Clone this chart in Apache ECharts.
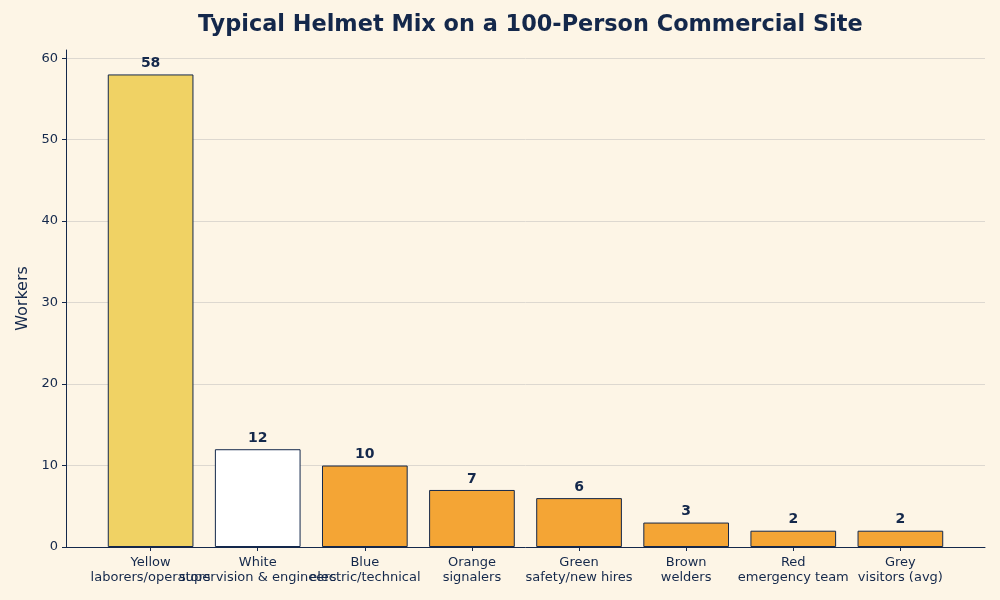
<!DOCTYPE html>
<html>
<head>
  <meta charset="UTF-8">
  <title>Typical Helmet Mix</title>
  <script src="https://cdn.jsdelivr.net/npm/echarts@6/dist/echarts.min.js"></script>
  <style>
    html, body { margin: 0; padding: 0; background: #fdf5e6; }
  </style>
</head>
<body>
  <div id="chart" style="width: 1000px; height: 600px;"></div>
  <script>
    // helmet colours and their roles
    const helmets = ['Yellow', 'White', 'Blue', 'Orange', 'Green', 'Brown', 'Red', 'Grey'];
    const roles = ['laborers/operators', 'supervision & engineers', 'electric/technical', 'signalers',
      'safety/new hires', 'welders', 'emergency team', 'visitors (avg)'];
    const workers = [58, 12, 10, 7, 6, 3, 2, 2];
    const barColors = ['#f0d264', '#ffffff', '#f4a535', '#f4a535', '#f4a535', '#f4a535', '#f4a535', '#f4a535'];
    const yTicks = [0, 10, 20, 30, 40, 50, 60];
    // labels are split over two axes so the overlapping ones are not hidden
    const xTicksEven = [0, 2, 4, 6];
    const xTicksOdd = [1, 3, 5, 7];

    const navy = '#14284b';
    const chart = echarts.init(document.getElementById('chart'));

    function xAxisFor(ticks, showLine) {
      return {
        type: 'value',
        position: 'bottom',
        min: -0.79,
        max: 7.79,
        axisLine: { show: showLine, onZero: false, lineStyle: { color: navy, width: 1 } },
        axisTick: { show: true, customValues: ticks, length: 4, lineStyle: { color: navy } },
        splitLine: { show: false },
        axisLabel: {
          customValues: ticks,
          showMinLabel: true,
          showMaxLabel: true,
          hideOverlap: false,
          color: navy,
          fontSize: 13,
          lineHeight: 15,
          margin: 8,
          formatter: v => helmets[Math.round(v)] + '\n' + roles[Math.round(v)]
        }
      };
    }

    chart.setOption({
      backgroundColor: '#fdf5e6',
      textStyle: { fontFamily: 'DejaVu Sans' },
      title: {
        text: 'Typical Helmet Mix on a 100-Person Commercial Site',
        left: 193,
        top: 9,
        textStyle: { fontSize: 22.4, fontWeight: 'bold', color: navy, fontFamily: 'DejaVu Sans' }
      },
      grid: { left: 66, right: 15, top: 50, bottom: 53 },
      xAxis: [xAxisFor(xTicksEven, true), xAxisFor(xTicksOdd, false)],
      yAxis: {
        type: 'value',
        min: 0,
        max: 61,
        name: 'Workers',
        nameLocation: 'middle',
        nameGap: 35,
        nameTextStyle: { fontSize: 16, color: navy },
        axisLine: { show: true, onZero: false, lineStyle: { color: navy, width: 1 } },
        axisTick: { show: true, customValues: yTicks, length: 4, lineStyle: { color: navy } },
        axisLabel: { customValues: yTicks, color: navy, fontSize: 13, margin: 8 },
        splitLine: { show: true, lineStyle: { color: '#ddd8d0', width: 1 } }
      },
      series: [{
        type: 'bar',
        xAxisIndex: 0,
        barWidth: 85.7,
        data: workers.map((v, i) => ({
          value: [i, v],
          itemStyle: { color: barColors[i], borderColor: navy, borderWidth: 1 }
        })),
        label: {
          show: true,
          position: 'top',
          distance: 4,
          color: navy,
          fontSize: 14,
          fontWeight: 'bold',
          formatter: p => p.value[1]
        }
      }]
    });
  </script>
</body>
</html>
